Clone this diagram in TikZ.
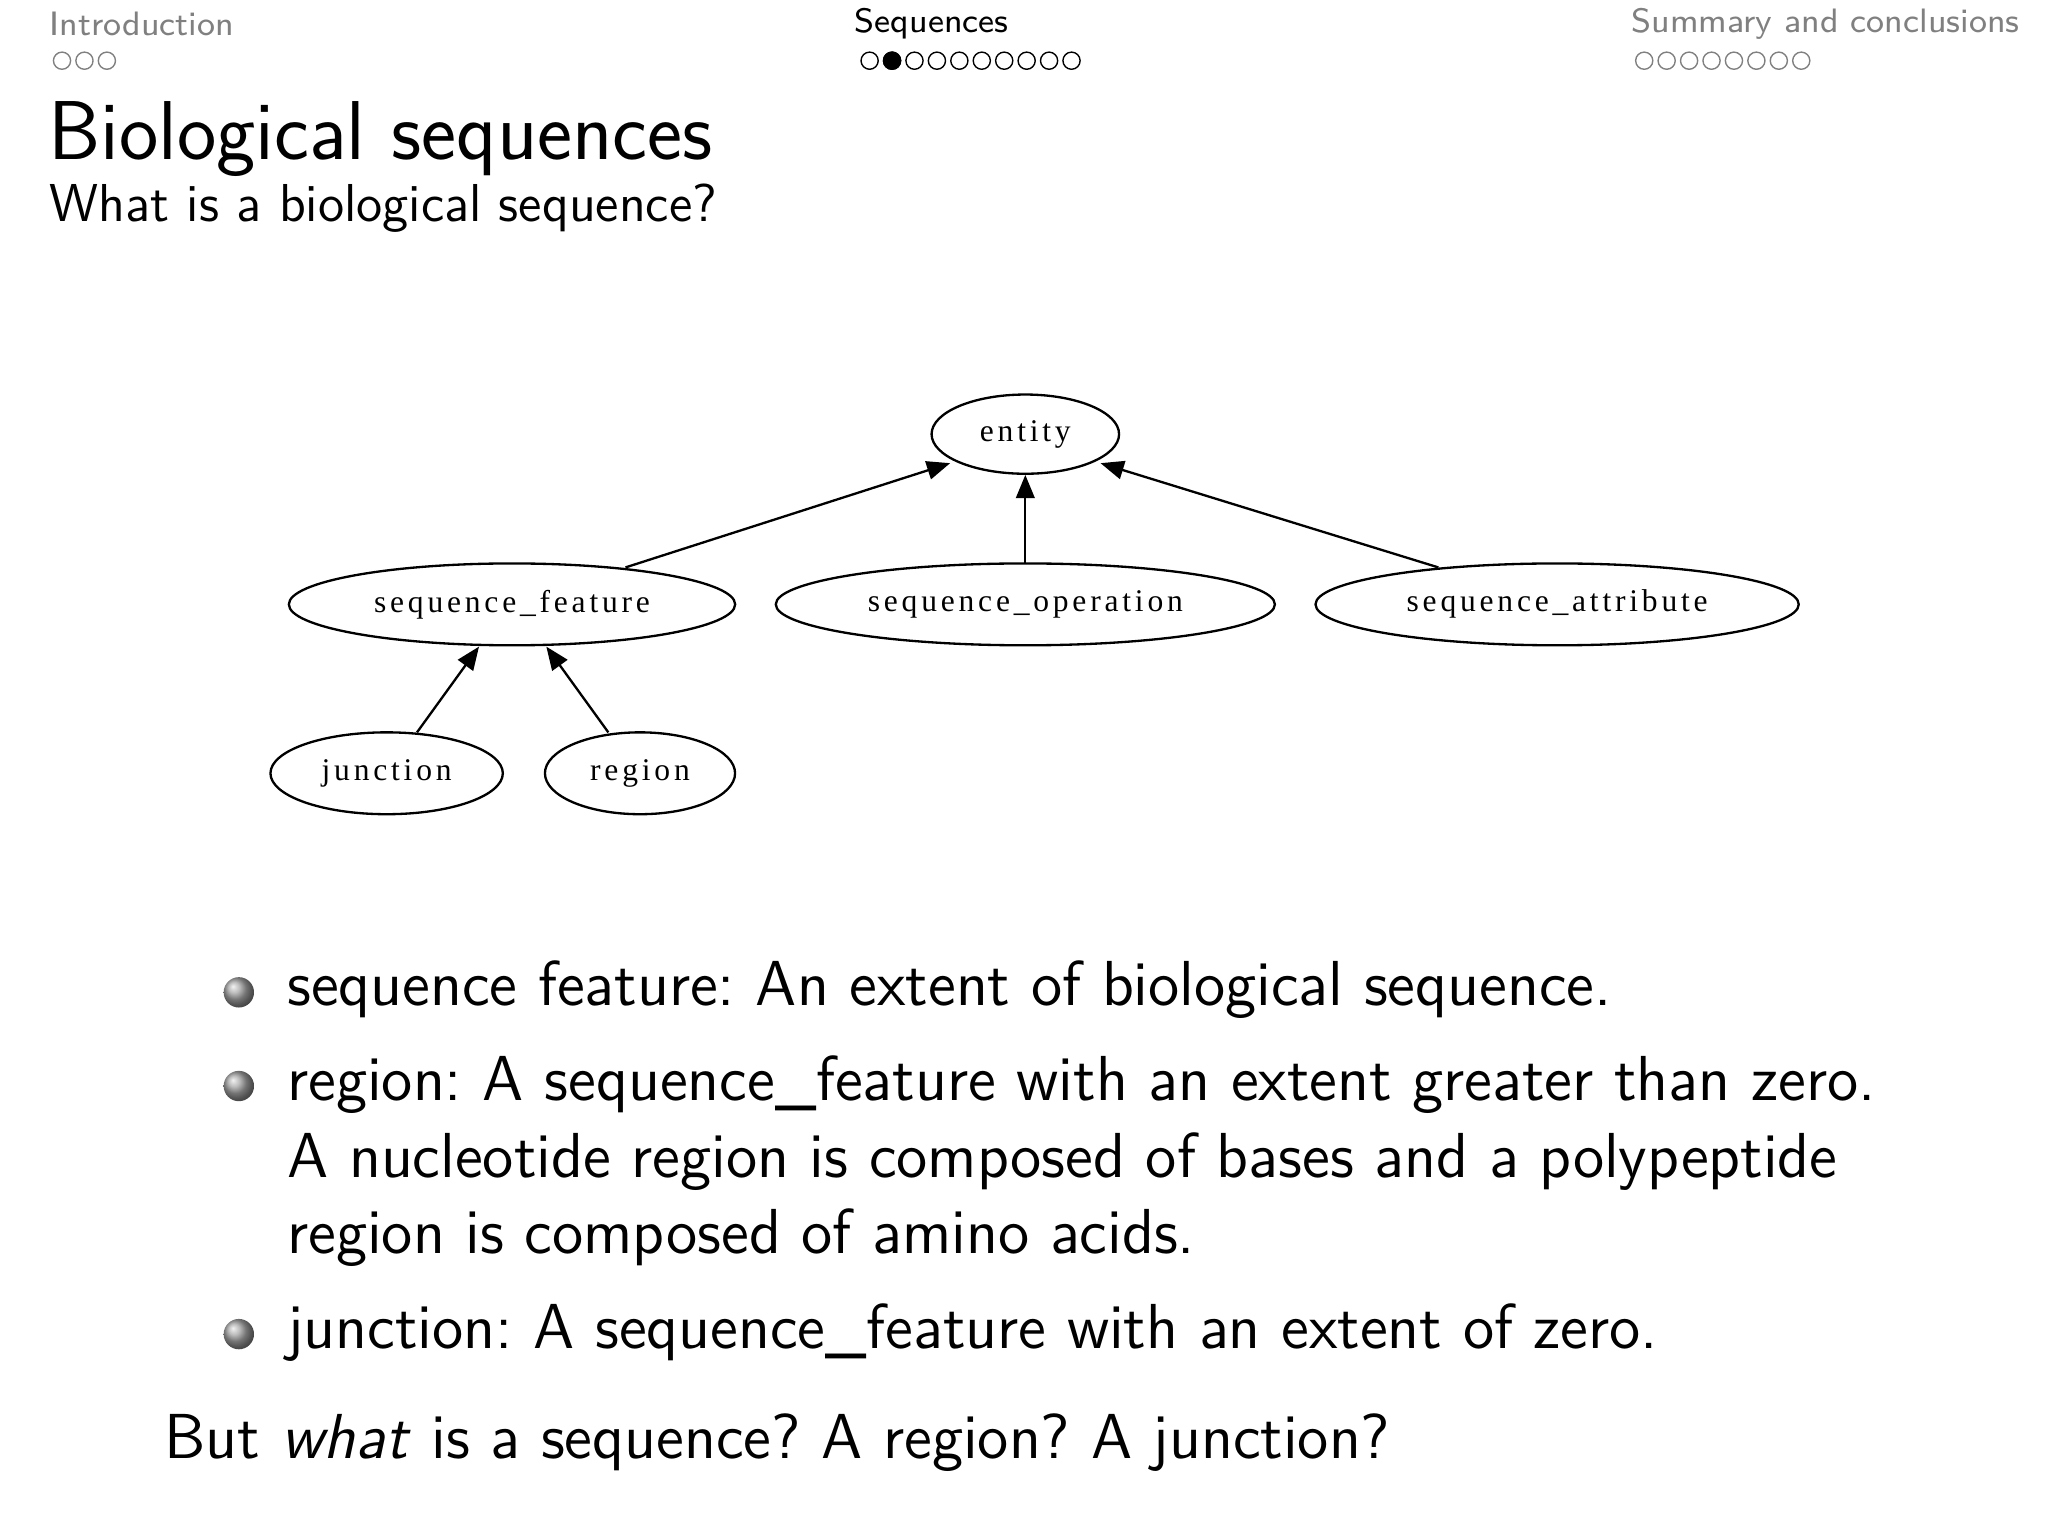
\documentclass[tikz,border=0pt]{standalone}
\usepackage{fontspec}
\newfontfamily\tms[LetterSpace=12]{Liberation Serif}
\usetikzlibrary{shapes.geometric,arrows.meta}
\begin{document}
\begin{tikzpicture}[x=0.01cm,y=-0.01cm,
  gn/.style={ellipse,draw,line width=0.5pt,inner sep=0pt,font=\tms\fontsize{6.8}{9}\selectfont},
  ed/.style={line width=0.5pt,-{Triangle[length=5pt,width=4pt]}},
  nav/.style={font=\sffamily\fontsize{7.3}{9}\selectfont},
  dot/.style={circle,draw,line width=0.3pt,minimum size=0.13cm,inner sep=0pt},
  body/.style={font=\sffamily\fontsize{13.7}{17}\selectfont,anchor=west,inner sep=0pt},
  ball/.style={circle,inner sep=0pt,minimum size=0.23cm,shading=ball,ball color=gray!70}]
\useasboundingbox (0,0) rectangle (1552,1164);
% navigation
\node[nav,text=gray,anchor=west,inner sep=0pt] (n1) at (37,18) {Introduction};
\foreach \i in {0,1,2} \node[dot,draw=gray] (a\i) at (47+\i*17,46) {};
\node[nav,anchor=center,inner sep=0pt] (n2) at (706,18) {Sequences};
\foreach \i in {0,...,9} \node[dot] (b\i) at (659+\i*17,46) {};
\node[dot,fill=black] (bf) at (676,46) {};
\node[nav,text=gray,anchor=east,inner sep=0pt] (n3) at (1531,18) {Summary and conclusions};
\foreach \i in {0,...,7} \node[dot,draw=gray] (c\i) at (1246+\i*17,46) {};
% title
\node[font=\sffamily\fontsize{18}{22}\selectfont,anchor=west,inner sep=0pt] (t) at (36,105) {Biological sequences};
\node[font=\sffamily\fontsize{11.5}{14}\selectfont,anchor=west,inner sep=0pt] (st) at (37,158) {What is a biological sequence?};
% graph
\node[gn,minimum width=1.42cm,minimum height=0.6cm] (e) at (777,329) {entity};
\node[gn,minimum width=3.38cm,minimum height=0.62cm] (sf) at (388,458) {sequence\_feature};
\node[gn,minimum width=3.78cm,minimum height=0.62cm] (so) at (777,458) {sequence\_operation};
\node[gn,minimum width=3.66cm,minimum height=0.62cm] (sa) at (1180,458) {sequence\_attribute};
\node[gn,minimum width=1.76cm,minimum height=0.62cm] (j) at (293,586) {junction};
\node[gn,minimum width=1.44cm,minimum height=0.62cm] (r) at (485,586) {region};
\coordinate (p1) at (474,430);
\coordinate (p2) at (720,351);
\coordinate (p3) at (777,427);
\coordinate (p4) at (1090,430);
\coordinate (p5) at (834,351);
\coordinate (p6) at (316,555);
\coordinate (p7) at (363,490);
\coordinate (p8) at (461,555);
\coordinate (p9) at (414,490);
\draw[ed] (p1) -- (p2);
\draw[ed] (p3) -- (e.south);
\draw[ed] (p4) -- (p5);
\draw[ed] (p6) -- (p7);
\draw[ed] (p8) -- (p9);
% bullets
\node[ball] (b1) at (181,752) {};
\node[ball] (b2) at (181,823) {};
\node[ball] (b3) at (181,1011) {};
\node[body] (l1) at (217,750) {sequence feature:\ An extent of biological sequence.};
\node[body] (l2) at (217,822) {region:\ A sequence\_feature with an extent greater than zero.};
\node[body] (l3) at (217,880) {A nucleotide region is composed of bases and a polypeptide};
\node[body] (l4) at (217,938) {region is composed of amino acids.};
\node[body] (l5) at (217,1010) {junction:\ A sequence\_feature with an extent of zero.};
\node[body] (l6) at (124,1093) {But \textit{what} is a sequence?\ A region?\ A junction?};
\end{tikzpicture}
\end{document}
